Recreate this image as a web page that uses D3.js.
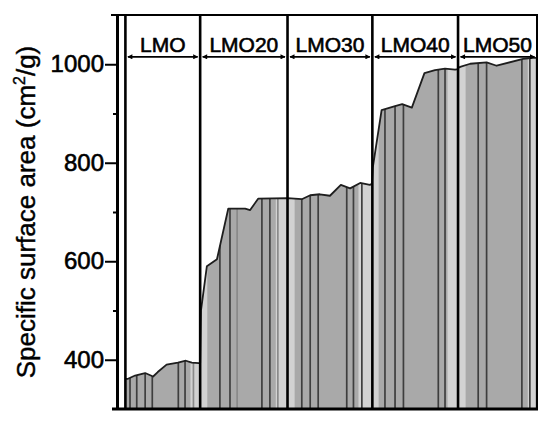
<!DOCTYPE html>
<html><head><meta charset="utf-8">
<script src="https://cdn.jsdelivr.net/npm/d3@7"></script>
<style>body{margin:0;background:#fff}svg{display:block}</style></head>
<body><svg id="c" width="550" height="427"></svg>
<script>
// ---- data ----
const categories = ["LMO", "LMO20", "LMO30", "LMO40", "LMO50"];
// segment boundaries along the (unlabelled) sample-position axis, 0..100
const boundaries = [2.0, 19.8, 40.6, 60.8, 81.2, 100];
// profile of specific surface area (cm²/g) along the position axis
const profilePos = [2.1, 2.5, 4.3, 6.7, 8.6, 9.7, 11.8, 14.5, 16.4, 17.8, 19.5, 19.8,
  20.0, 21.4, 23.8, 26.5, 30.5, 31.7, 33.6, 40.6,
  44.0, 46.0, 48.3, 50.7, 53.3, 55.5, 57.9, 60.2, 60.7,
  60.9, 63.0, 66.2, 67.9, 70.2, 73.2, 75.7, 78.1, 80.5, 81.2,
  81.3, 81.9, 84.1, 88.0, 90.4, 96.7, 99.1, 100];
const profileVal = [361, 361, 368, 373, 366, 375, 390, 394, 398, 394, 393, 393,
  500, 590, 604, 707, 707, 704, 727, 728,
  726, 734, 736, 733, 755, 748, 759, 755, 757,
  790, 907, 915, 919, 912, 982, 988, 991, 989, 990,
  993, 995, 1001, 1004, 997, 1011, 1013, 1013];
// vertical stripes inside the filled area
const stripePos = [3.1, 4.7, 6.7, 8.4, 14.6, 16.2, 18.2,
  24.5, 26.9, 28.6, 34.5, 36.4, 38.3,
  44.0, 46.0, 47.9, 54.7, 56.3, 58.3,
  63.8, 66.2, 68.2, 76.5, 78.1,
  86.0, 88.0, 96.4, 98.3];
const stripeTone = ["d","d","d","d","d","d","l",
  "d","d","l","d","d","l",
  "d","d","d","d","d","d",
  "d","d","d","d","d",
  "d","d","d","d"];
const lightStart = [17.5, 19.9, 37.8, 40.7, 57.5, 60.9, 78.7, 81.3, 97.8];
const lightEnd   = [19.6, 21.5, 40.4, 42.3, 60.6, 62.3, 81.0, 83.0, 99.6];
const yTicks = [400, 600, 800, 1000];
const yMinorTicks = [500, 700, 900];
const labelLevel = 1015;

// ---- chart ----
const svg = d3.select("#c");
const mLeft = 117, mRight = 537, mTop = 15, mBottom = 409;
const x = d3.scaleLinear().domain([0, 100]).range([mLeft, mRight]);
const y = d3.scaleLinear().domain([300, 1100]).range([mBottom, mTop]);
const font = "'Liberation Sans', Arial, sans-serif";

const pts = profilePos.map((p, i) => ({p, v: profileVal[i]}));
const area = d3.area().x(d => x(d.p)).y0(y(300)).y1(d => y(d.v));
const line = d3.line().x(d => x(d.p)).y(d => y(d.v));

const defs = svg.append("defs");
defs.append("clipPath").attr("id", "ac").append("path").attr("d", area(pts));

const g = svg.append("g").attr("clip-path", "url(#ac)");
g.append("rect").attr("x", x(0)).attr("y", y(1100)).attr("width", x(100) - x(0))
  .attr("height", y(300) - y(1100)).attr("fill", "#a9a9a9");
g.selectAll("rect.lb").data(lightStart).join("rect").attr("class", "lb")
  .attr("x", d => x(d)).attr("width", (d, i) => x(lightEnd[i]) - x(d))
  .attr("y", y(1100)).attr("height", y(300) - y(1100))
  .attr("fill", "#d9d9d9").attr("opacity", 0.85);
g.selectAll("line.st").data(stripePos).join("line").attr("class", "st")
  .attr("x1", d => x(d)).attr("x2", d => x(d)).attr("y1", y(1100)).attr("y2", y(300))
  .attr("stroke", (d, i) => stripeTone[i] === "d" ? "#3e3e3e" : "#8a8a8a")
  .attr("stroke-width", 1.7);

svg.append("path").attr("d", line(pts)).attr("fill", "none")
  .attr("stroke", "#1e1e1e").attr("stroke-width", 1.8).attr("stroke-linejoin", "round");

// dividers
svg.selectAll("line.div").data(boundaries).join("line").attr("class", "div")
  .attr("x1", d => x(d)).attr("x2", d => x(d)).attr("y1", y(1100)).attr("y2", y(300))
  .attr("stroke", "#000").attr("stroke-width", (d, i) => i === boundaries.length - 1 ? 2 : 2.6);

// frame top & bottom
svg.append("line").attr("x1", mLeft - 6).attr("x2", mRight + 1).attr("y1", y(1100)).attr("y2", y(1100))
  .attr("stroke", "#000").attr("stroke-width", 2);
svg.append("line").attr("x1", mLeft - 5).attr("x2", mRight + 1).attr("y1", y(300)).attr("y2", y(300))
  .attr("stroke", "#000").attr("stroke-width", 3);

// y axis
const ax = svg.append("g").attr("transform", `translate(${mLeft},0)`)
  .call(d3.axisLeft(y).tickValues(yTicks).tickFormat(d3.format("d"))
    .tickSize(12).tickSizeOuter(0).tickPadding(1));
ax.select(".domain").attr("stroke-width", 3);
ax.selectAll(".tick line").attr("stroke-width", 2);
ax.selectAll("text").attr("font-family", font).attr("font-size", 24).attr("fill", "#000")
  .attr("stroke", "#000").attr("stroke-width", 0.6);
const mx = svg.append("g").attr("transform", `translate(${mLeft},0)`)
  .call(d3.axisLeft(y).tickValues(yMinorTicks).tickSize(4).tickSizeOuter(0).tickFormat(""));
mx.select(".domain").remove();
mx.selectAll(".tick line").attr("stroke-width", 2);

// axis title
const tt = svg.append("text").attr("transform", `translate(35,${(40 + 384) / 2}) rotate(-90)`)
  .attr("text-anchor", "middle").attr("font-family", font).attr("font-size", 26).attr("fill", "#000")
  .attr("stroke", "#000").attr("stroke-width", 0.4);
tt.append("tspan").text("Specific surface area (cm");
tt.append("tspan").attr("dy", -10).attr("font-size", 16).text("2");
tt.append("tspan").attr("dy", 10).text("/g)");

// arrow markers
defs.append("marker").attr("id", "ah").attr("viewBox", "0 0 10 10").attr("refX", 9).attr("refY", 5)
  .attr("markerWidth", 7).attr("markerHeight", 5).attr("markerUnits", "userSpaceOnUse")
  .attr("orient", "auto-start-reverse")
  .append("path").attr("d", "M0,0L10,5L0,10Z").attr("fill", "#000");

// segment labels with double arrows
categories.forEach((c, i) => {
  const x0 = x(boundaries[i]) + 2.5, x1 = x(boundaries[i + 1]) - 2.5;
  svg.append("line").attr("x1", x0).attr("x2", x1).attr("y1", y(labelLevel)).attr("y2", y(labelLevel))
    .attr("stroke", "#000").attr("stroke-width", 1.8)
    .attr("marker-start", "url(#ah)").attr("marker-end", "url(#ah)");
  svg.append("text").attr("x", (x0 + x1) / 2).attr("y", y(labelLevel) - 5)
    .attr("text-anchor", "middle").attr("font-family", font).attr("font-size", 21)
    .attr("fill", "#000").attr("stroke", "#000").attr("stroke-width", 0.6).text(c);
});
</script></body></html>
